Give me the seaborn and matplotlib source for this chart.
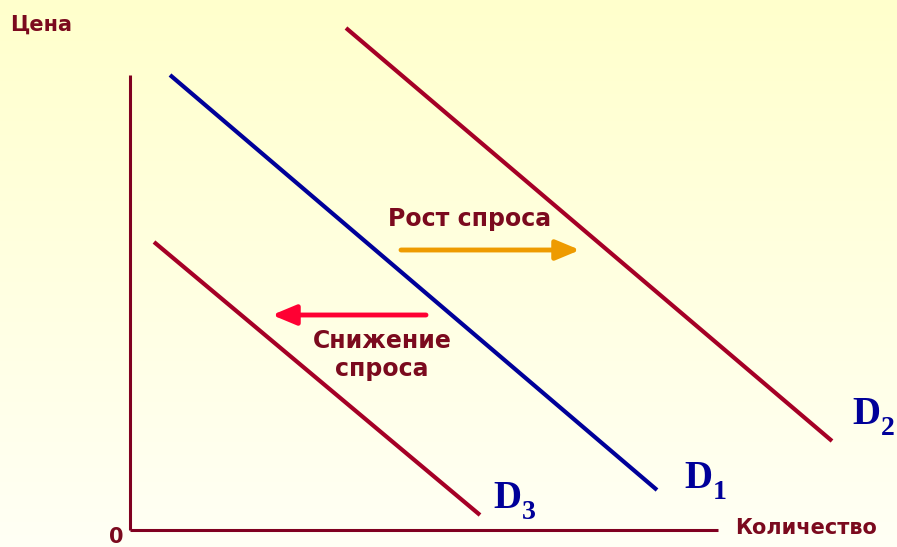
import numpy as np
import pandas as pd
import matplotlib
matplotlib.use("Agg")
import matplotlib.pyplot as plt
import seaborn as sns

# demand curves: endpoints (quantity, price) in chart units, origin at the axes corner
curve_names = ["D1", "D2", "D3"]
curve_q = [[40, 527], [216, 702], [24, 350]]
curve_p = [[455, 40], [502, 89], [288, 15]]
curve_colors = ["#000099", "#A50026", "#A50026"]

# label positions for the curves
label_q = [554, 722, 363]
label_p = [42, 106, 22]
label_sub = ["1", "2", "3"]

# shift arrows
shift_texts = ["Рост спроса", "Снижение\nспроса"]
shift_start_q = [271, 296]
shift_end_q = [450, 142]
shift_p = [280, 215]
shift_colors = ["#EE9B00", "#FF0033"]
shift_text_q = [340, 252]
shift_text_p = [311, 175]

axis_color = "#800020"
text_color = "#7B0A1E"

sns.set_theme(style="white")
plt.rcParams['font.family'] = ['DejaVu Sans']

fig = plt.figure(figsize=(8.97, 5.47), dpi=100)
ax = fig.add_axes([0, 0, 1, 1])
ax.set_xlim(-130, 767)
ax.set_ylim(-17, 530)
ax.axis("off")

# background gradient pale yellow -> almost white
grad = np.linspace(0, 1, 256).reshape(-1, 1)
top = np.array([1.0, 1.0, 0.80])
bot = np.array([1.0, 1.0, 0.96])
img = top + (bot - top) * grad
ax.imshow(img[:, None, :].repeat(2, axis=1), extent=(-130, 767, -17, 530),
          origin="upper", aspect="auto", zorder=0)

# axes of the diagram
ax.plot([0, 0], [0, 455], color=axis_color, lw=2.2, solid_capstyle="butt", zorder=2)
ax.plot([0, 588], [0, 0], color=axis_color, lw=2.2, solid_capstyle="butt", zorder=2)

rows = []
for name, qs, ps in zip(curve_names, curve_q, curve_p):
    for q, p in zip(qs, ps):
        rows.append({"curve": name, "q": q, "p": p})
df = pd.DataFrame(rows)
sns.lineplot(data=df, x="q", y="p", hue="curve", palette=curve_colors, sort=False,
             lw=3.0, legend=False, ax=ax, zorder=3)
for line in ax.lines[-3:]:
    line.set_solid_capstyle("butt")

serif = ['Liberation Serif', 'DejaVu Serif']
for q, p, s in zip(label_q, label_p, label_sub):
    ax.text(q, p, "D", color="#000099", fontsize=28, fontweight="bold", family=serif,
            ha="left", va="baseline", zorder=4)
    ax.annotate(s, xy=(q, p), xytext=(21, -8), textcoords="offset points",
                color="#000099", fontsize=20, fontweight="bold", family=serif,
                ha="left", va="baseline", zorder=4)

for t, q0, q1, p, c, tq, tp in zip(shift_texts, shift_start_q, shift_end_q, shift_p,
                                     shift_colors, shift_text_q, shift_text_p):
    ax.annotate("", xy=(q1, p), xytext=(q0, p),
                arrowprops=dict(arrowstyle="-|>,head_length=1.2,head_width=0.5",
                                color=c, lw=3.5, shrinkA=0, shrinkB=0), zorder=4)
    ax.text(tq, tp, t, color=text_color, fontsize=17, fontweight="bold",
            ha="center", va="center", linespacing=1.2, zorder=4)

ax.text(-120, 505, "Цена", color=text_color, fontsize=15, fontweight="bold",
        ha="left", va="center")
ax.text(605, 2, "Количество", color=text_color, fontsize=15, fontweight="bold",
        ha="left", va="center")
ax.text(-14, -7, "0", color=text_color, fontsize=15, fontweight="bold",
        ha="center", va="center")

fig.savefig("out.png", dpi=100)
